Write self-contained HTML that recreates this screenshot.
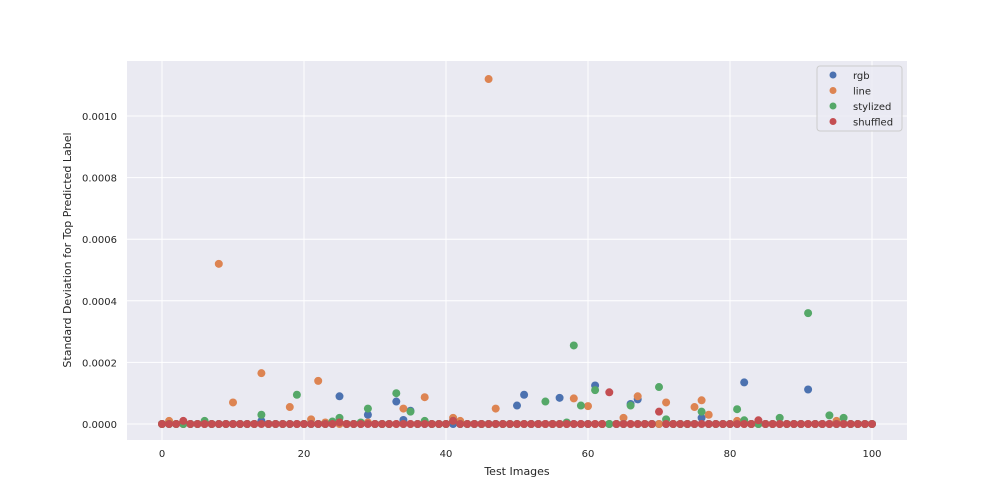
<!DOCTYPE html>
<html><head><meta charset="utf-8"><style>
body{margin:0;background:#fff;}
svg{display:block;font-family:"DejaVu Sans","Liberation Sans",sans-serif;}
</style></head><body>
<svg id="chart" width="1008" height="504">
<rect x="127" y="61" width="780" height="379" fill="#eaeaf2"/>
<g id="grid"></g><g id="ticks"></g><g id="marks"></g>
<text x="517" y="475" font-size="11" fill="#262626" text-anchor="middle">Test Images</text>
<text transform="translate(71,250) rotate(-90)" font-size="11" fill="#262626" text-anchor="middle">Standard Deviation for Top Predicted Label</text>
<g id="legend">
<rect x="817" y="66" width="85" height="65" rx="3" fill="#eaeaf2" stroke="#cccccc" fill-opacity="0.8"/>
</g>
</svg>
<script>
const seriesNames=["rgb","line","stylized","shuffled"];
const colors=["#4c72b0","#dd8452","#55a868","#c44e52"];
const xTicks=[0,20,40,60,80,100];
const yTicks=[0,0.0002,0.0004,0.0006,0.0008,0.0010];
const yTickLabels=["0.0000","0.0002","0.0004","0.0006","0.0008","0.0010"];
const rgb=[0,0,0,0,0,0,0,0,0,0, 0,0,0,0,1e-5,0,0,0,0,0, 0,0,0,0,0,9e-5,0,0,0,3e-5, 0,0,0,7.3e-5,1.3e-5,4.3e-5,0,0,0,0, 0,0,0,0,0,0,0,0,0,0, 6e-5,9.5e-5,0,0,0,0,8.5e-5,0,0,0, 0,1.25e-4,0,0,0,0,6.5e-5,8e-5,0,0, 0,0,0,0,0,0,2e-5,0,0,0, 0,0,1.35e-4,0,0,0,0,0,0,0, 0,1.12e-4,0,0,0,0,0,0,0,0, 0];
const line=[0,1e-5,0,0,0,0,0,0,5.2e-4,0, 7e-5,0,0,0,1.65e-4,0,0,0,5.5e-5,0, 0,1.5e-5,1.4e-4,5e-6,5e-6,0,0,0,0,5e-6, 0,0,0,0,5e-5,0,0,8.7e-5,0,0, 0,2e-5,1e-5,0,0,0,1.12e-3,5e-5,0,0, 0,0,0,0,0,0,0,0,8.3e-5,0, 5.8e-5,0,0,0,0,2e-5,0,9e-5,0,0, 0,7e-5,0,0,0,5.5e-5,7.7e-5,3e-5,0,0, 0,1e-5,0,0,0,0,0,0,0,0, 0,0,0,0,0,1e-5,0,0,0,0, 0];
const stylized=[0,0,0,0,0,0,1e-5,0,0,0, 0,0,0,0,3e-5,0,0,0,0,9.5e-5, 0,0,0,0,8e-6,2e-5,0,0,5e-6,5e-5, 0,0,0,1e-4,0,4e-5,0,1e-5,0,0, 0,1e-5,0,0,0,0,0,0,0,0, 0,0,0,0,7.3e-5,0,0,5e-6,2.55e-4,6e-5, 0,1.1e-4,0,0,0,0,6e-5,0,0,0, 1.2e-4,1.5e-5,0,0,0,0,4e-5,0,0,0, 0,4.8e-5,1.2e-5,0,0,0,0,2e-5,0,0, 0,3.6e-4,0,0,2.8e-5,0,2e-5,0,0,0, 0];
const shuffled=[0,0,0,1e-5,0,0,0,0,0,0, 0,0,0,0,0,0,0,0,0,0, 0,0,0,0,0,5e-6,0,0,0,0, 0,0,0,0,0,0,0,0,0,0, 0,1e-5,0,0,0,0,0,0,0,0, 0,0,0,0,0,0,0,0,0,0, 0,0,0,1.03e-4,0,0,0,0,0,0, 4e-5,0,0,0,0,0,0,0,0,0, 0,0,0,0,1.2e-5,0,0,0,0,0, 0,0,0,0,0,0,0,0,0,0, 0];
const allSeries=[rgb,line,stylized,shuffled];
const NS="http://www.w3.org/2000/svg";
function xs(v){return 162+v*7.1;}
function ys(v){return 424-v*308000;}
function mk(tag,attrs,parent){const e=document.createElementNS(NS,tag);for(const k in attrs)e.setAttribute(k,attrs[k]);parent.appendChild(e);return e;}
const grid=document.getElementById('grid'),ticks=document.getElementById('ticks'),marks=document.getElementById('marks'),legend=document.getElementById('legend');
xTicks.forEach(t=>{
 const l=mk('line',{x1:xs(t),x2:xs(t),y1:61,y2:440,stroke:'#fff','stroke-width':1},grid);
 
 
 const tx=mk('text',{x:xs(t),y:457,'font-size':10,fill:'#262626','text-anchor':'middle'},ticks);
 tx.textContent=t;
 
 
});
yTicks.forEach((t,i)=>{
 const l=mk('line',{x1:127,x2:907,y1:ys(t),y2:ys(t),stroke:'#fff','stroke-width':1},grid);
 
 
 const tx=mk('text',{x:117,y:ys(t)+4,'font-size':10,fill:'#262626','text-anchor':'end'},ticks);
 tx.textContent=yTickLabels[i];
 
 
});
allSeries.forEach((s,si)=>{
 s.forEach((v,i)=>{
  const c=mk('circle',{cx:xs(i),cy:ys(v),r:4,fill:colors[si]},marks);
  
  
 });
 const y=75+si*15.5;
 const c=mk('circle',{cx:833,cy:y,r:3.5,fill:colors[si]},legend);
 
 
 const t=mk('text',{x:853,y:y+4,'font-size':10,fill:'#262626'},legend);
 t.textContent=seriesNames[si];
 
 
});
</script>
</body></html>
